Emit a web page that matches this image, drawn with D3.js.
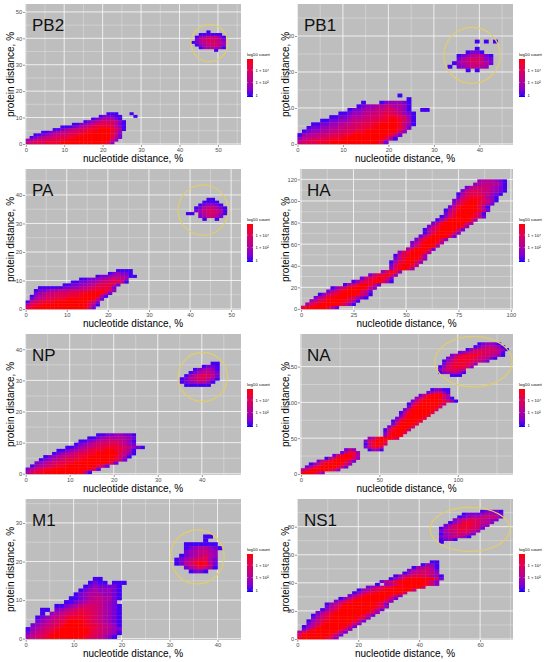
<!DOCTYPE html>
<html>
<head>
<meta charset="utf-8">
<title>Nucleotide vs protein distance</title>
<script src="https://cdn.jsdelivr.net/npm/d3@7"></script>
<style>
  body { margin: 0; background: #fff; }
  svg { display: block; font-family: "Liberation Sans", Arial, sans-serif; }
  .tick text { font-size: 5.8px; fill: #4d4d4d; }
  .tick line { stroke: #333; stroke-width: 0.5; }
  .axis-title { font-size: 10px; fill: #000; }
  .panel-title { font-size: 17px; fill: #111; }
  .legend-title { font-size: 4.4px; fill: #000; }
  .legend-label { font-size: 4.2px; fill: #000; }
</style>
</head>
<body>
<svg id="chart" width="550" height="662"></svg>
<script>
const panelNames = ["PB2", "PB1", "PA", "HA", "NP", "NA", "M1", "NS1"];
const xDomains = [[-0.2, 56], [-0.1, 47.4], [-0.16, 52.4], [-0.5, 101], [-0.15, 48.9], [-0.6, 135.2], [-0.14, 44.9], [-0.1, 70.8]];
const yDomains = [[-0.4, 53], [-0.3, 38.9], [-0.35, 49.1], [-1, 129.6], [-0.4, 44.9], [-1.5, 195.6], [-0.35, 36.2], [-0.7, 99.7]];
const xTicks = [[0, 10, 20, 30, 40, 50], [0, 10, 20, 30, 40], [0, 10, 20, 30, 40, 50], [0, 25, 50, 75, 100],
                [0, 10, 20, 30, 40], [0, 50, 100], [0, 10, 20, 30, 40], [0, 20, 40, 60]];
const yTicks = [[0, 10, 20, 30, 40, 50], [0, 10, 20, 30], [0, 10, 20, 30, 40], [0, 20, 40, 60, 80, 100, 120],
                [0, 10, 20, 30, 40], [0, 50, 100, 150], [0, 10, 20, 30], [0, 20, 40, 60, 80]];
// bin width (nucleotide %) and bin height (protein %) of each 2d histogram
const binSizes = [[1, 1], [1, 1], [1, 1], [2, 3], [1, 1], [2.5, 4], [1, 1], [1.5, 2]];
// circled outlier clusters: [cx, cy, rx, ry] in data units
const clusterRings = [[47.8, 38.2, 4.8, 7.0], [38.4, 24.6, 6.2, 7.8], [43.2, 34.7, 6.1, 8.8], null,
                      [40.2, 31.1, 5.6, 7.9], [110, 157, 24.6, 35.4], [35.8, 21.2, 5.6, 7.0], [56.7, 78.1, 13.1, 15.7]];
const legendBreaks = [1, 1e2, 1e4];
const legendLabels = ["1", "1 × 10²", "1 × 10⁴"];
const logCountRange = [-0.3, 5.76];
const levelStep = 0.72; // log10 count per digit below

// rows of bins: [protein %, nucleotide % of first bin, digits = count level 1..9, "." = empty]
const pb2Cells = [
  [11, 21, "111...1"], [10, 19, "122211...1"], [9, 17, "12344421"], [8, 15, "12345666531"],
  [7, 12, "11234567776421"], [6, 9, "11123456788887531"], [5, 7, "1123455678889998641"],
  [4, 4, "112345566778899999863"], [3, 2, "11234556677889999999852"], [2, 1, "123455667788999999999742"],
  [1, 0, "345666778889999999999963"], [0, 0, "56777888899999999999973"],
  [42, 47, "1"], [41, 45, "111111"], [40, 44, "13455531"], [39, 44, "24566542"],
  [38, 43, "124566653"], [37, 44, "13456643"], [36, 45, "1344431"], [35, 49, "1"]
];
const pb1Cells = [
  [13, 22, "1"], [12, 24, "1"], [11, 14, "1...1233321"], [10, 13, "123344554431"],
  [9, 11, "12234455665431..11"], [8, 9, "11233455667765321"], [7, 7, "1122344556678887631"],
  [6, 5, "112233455667788998641"], [5, 3, "11223345566778899998531"], [4, 2, "12233445566778899999862"],
  [3, 1, "12334455667788999999963"], [2, 0, "13445566778899999999852"], [1, 0, "3556677888999999999741"],
  [0, 0, "56778889999999999962"],
  [28, 39, "1.1.1"], [26, 39, "1"], [25, 37, "1221"], [24, 35, "12345421"], [23, 35, "24566532"],
  [22, 34, "134566542"], [21, 33, "1.2345543"], [20, 37, "1.1"]
];
const paCells = [
  [13, 22, "1111"], [12, 20, "123221"], [11, 17, "1223444311"], [10, 13, "112233456653"],
  [9, 11, "11223345667751"], [8, 9, "11223345677862"], [7, 3, "1111112233455677862"],
  [6, 2, "12234455566677889863"], [5, 2, "2345566677788999862"], [4, 1, "1345667778889999941"],
  [3, 1, "245677888999999952"], [2, 0, "156788899999999863"], [1, 0, "478899999999999741"],
  [0, 0, "78999999999999962"],
  [38, 44, "11"], [37, 43, "1111"], [36, 42, "123321"], [35, 41, "12455421"], [34, 41, "23566541"],
  [33, 39, "11.3466531"], [32, 42, "245542"], [31, 43, "1..1"]
];
const haCells = [
  [0, 0, "799999852"], [3, 2, "478999998631"], [6, 4, "357899998741"], [9, 6, "2568999987421"],
  [12, 8, "1367899998641"], [15, 12, "24689999752"], [18, 14, "13579999853"], [21, 20, "146899852"],
  [24, 24, "1357899741"], [27, 28, "25789862"], [30, 32, "2578973"], [33, 38, "36983"],
  [36, 42, "379974"], [39, 42, "2689985"], [42, 42, "14789963"], [45, 44, "25899973"],
  [48, 44, "15789983"], [51, 46, "36899984"], [54, 50, "4799982"], [57, 52, "3689994"],
  [60, 52, "24799984"], [63, 54, "25899973"], [66, 56, "258999962"], [69, 58, "147999963"],
  [72, 58, "1468999962"], [75, 60, "2579999973"], [78, 62, "2589999974"], [81, 64, "1479999984"],
  [84, 66, "13689999752"], [87, 68, "2579999861"], [90, 68, "14789999852"], [93, 70, "2589999741"],
  [96, 72, "3689998642"], [99, 72, "24789987531"], [102, 74, "2578886431"], [105, 74, "14677765321"],
  [108, 76, "25676554321"], [111, 78, "2456654321"], [114, 82, "34555431"], [117, 84, "3444321"]
];
const npCells = [
  [12, 16, "112233221"], [11, 14, "11234444432"], [10, 12, "1123455665431"], [9, 11, "12345667776532"],
  [8, 9, "112345677888765321"], [7, 7, "112345678889987641"], [6, 6, "1234567788999997531"],
  [5, 4, "12345667889999998641"], [4, 3, "12345677889999999852"], [3, 2, "2345677889999999962"],
  [2, 1, "134567889999999852"], [1, 0, "24678899999999962"], [0, 0, "468899999999951"],
  [35, 42, "11"], [34, 40, "1221"], [33, 38, "123431"], [32, 37, "1245542"], [31, 36, "13567652"],
  [30, 35, "124566531"], [29, 35, "12345531"], [28, 36, "111111"]
];
const naCells = [
  [0, 0, "999863"], [4, 0, "4799999863"], [8, 2.5, "24789999852"], [12, 5, "13689999863"],
  [16, 10, "2578999852"], [20, 15, "147999863"], [24, 20, "2589974"], [28, 25, "25883"], [32, 27.5, "243"],
  [32, 42.5, "1331"], [36, 40, "25886"], [40, 40, "158996"], [44, 40, "268998"], [48, 42.5, "35899986"],
  [52, 52.5, "37998"], [56, 52.5, "279997"], [60, 52.5, "1689995"], [64, 55, "2799996"],
  [68, 57.5, "2699997"], [72, 57.5, "14899997"], [76, 60, "25899997"], [80, 62.5, "26999998"],
  [84, 62.5, "158999997"], [88, 65, "269999996"], [92, 67.5, "279999996"], [96, 67.5, "1589999985"],
  [100, 70, "258999998631"], [104, 72.5, "3689998631"], [108, 75, "25899974"], [112, 80, "246631"],
  [116, 82.5, "12211"],
  [136, 95, "111"], [140, 87.5, "1234431"], [144, 87.5, "2567765"], [148, 87.5, "136788763"],
  [152, 90, "257888763"], [156, 90, "135788876542"], [160, 92.5, "2478888765421"],
  [164, 95, "24688887665431"], [168, 100, "235677766541"], [172, 105, "13566666431"],
  [176, 110, "12455431"], [180, 112.5, "123321"]
];
const m1Cells = [
  [15, 14, "11"], [14, 13, "1211.111"], [13, 12, "12322221"], [12, 11, "123433321"],
  [11, 10, "1234443321"], [10, 9, "11234554421"], [9, 8, "11234555432"], [8, 6, "11234566654321"],
  [7, 3, "11.23456776654321"], [6, 3, "1.345677877654321"], [5, 2, "123456788887654321"],
  [4, 2, "234567899987654321"], [3, 1, "2345678999988765431"], [2, 0, "13456789999998765432"],
  [1, 0, "24567899999998765431"], [0, 0, "4567899999998765421"],
  [26, 37, "11"], [25, 37, "1"], [24, 33, "1111111"], [23, 33, "12344321"], [22, 33, "2345543"],
  [21, 32, "12345643"], [20, 31, "123567742"], [19, 31, "125689852"], [18, 33, "2467641"], [17, 34, "1221"]
];
const ns1Cells = [
  [0, 0, "899999863"], [2, 0, "7999999852"], [4, 0, "47999999852"], [6, 1.5, "25899999863"],
  [8, 1.5, "135899999852"], [10, 3, "246899999863"], [12, 3, "1357899999852"], [14, 4.5, "2468999999863"],
  [16, 4.5, "13578999999852"], [18, 6, "24689999999863"], [20, 7.5, "13579999999852"],
  [22, 9, "24689999999863"], [24, 9, "13579999999862"], [26, 12, "2468999999863"],
  [28, 13.5, "1357999999852"], [30, 16.5, "246899999863"], [32, 18, "135789999996"],
  [34, 19.5, "1346789999995"], [36, 22.5, "2356789999996"], [38, 25.5, "1.346899999853"],
  [40, 27, "2468999999852"], [42, 30, "135899999962"], [44, 31.5, "13567776431"], [46, 34.5, "13566653"],
  [48, 36, "2456642"], [50, 37.5, "134541"], [52, 40.5, "1331"], [54, 43.5, "11"],
  [68, 46.5, "1"], [70, 46.5, "1231"], [72, 46.5, "2345431"], [74, 46.5, "13456542"],
  [76, 46.5, "245677653"], [78, 46.5, "1356787652"], [80, 48, "2467887643"], [82, 49.5, "1357876543"],
  [84, 51, "2467765432"], [86, 52.5, "1234456652"], [88, 54, "122234442"], [90, 60, "12221"]
];
const cellSets = [pb2Cells, pb1Cells, paCells, haCells, npCells, naCells, m1Cells, ns1Cells];

const svg = d3.select("#chart");
const colX = [0, 275];
const rowY = [0, 165, 330, 495];
const plotLeftPad = [25, 22, 25, 25, 25, 25, 25, 22];
const plotRightPad = [241, 238];

const color = d3.scaleSequential(d3.interpolateLab("#0000ff", "#ff0000")).domain(logCountRange);

const defs = svg.append("defs");
const grad = defs.append("linearGradient").attr("id", "legendGrad")
  .attr("x1", 0).attr("y1", 1).attr("x2", 0).attr("y2", 0);
d3.range(0, 1.0001, 0.1).forEach(t => grad.append("stop")
  .attr("offset", t)
  .attr("stop-color", color(logCountRange[0] + t * (logCountRange[1] - logCountRange[0]))));

const minorOf = (ticks, dom) => {
  const s = ticks[1] - ticks[0];
  return d3.range(ticks[0] - s / 2, dom[1], s).filter(v => v > dom[0]);
};

panelNames.forEach((name, i) => {
  const col = i % 2, row = Math.floor(i / 2);
  const left = colX[col] + plotLeftPad[i], right = colX[col] + plotRightPad[col];
  const top = rowY[row] + 4, bottom = rowY[row] + 145;
  const x = d3.scaleLinear().domain(xDomains[i]).range([left, right]);
  const y = d3.scaleLinear().domain(yDomains[i]).range([bottom, top]);
  const g = svg.append("g");

  g.append("rect").attr("x", left).attr("y", top)
    .attr("width", right - left).attr("height", bottom - top).attr("fill", "#bebebe");

  // grid
  const grid = g.append("g");
  grid.selectAll(".vminor").data(minorOf(xTicks[i], xDomains[i])).join("line")
    .attr("x1", d => x(d)).attr("x2", d => x(d)).attr("y1", top).attr("y2", bottom)
    .attr("stroke", "#fff").attr("stroke-width", 0.35).attr("stroke-opacity", 0.8);
  grid.selectAll(".hminor").data(minorOf(yTicks[i], yDomains[i])).join("line")
    .attr("y1", d => y(d)).attr("y2", d => y(d)).attr("x1", left).attr("x2", right)
    .attr("stroke", "#fff").attr("stroke-width", 0.35).attr("stroke-opacity", 0.8);
  grid.selectAll(".vmajor").data(xTicks[i]).join("line")
    .attr("x1", d => x(d)).attr("x2", d => x(d)).attr("y1", top).attr("y2", bottom)
    .attr("stroke", "#fff").attr("stroke-width", 0.75);
  grid.selectAll(".hmajor").data(yTicks[i]).join("line")
    .attr("y1", d => y(d)).attr("y2", d => y(d)).attr("x1", left).attr("x2", right)
    .attr("stroke", "#fff").attr("stroke-width", 0.75);

  // bins
  defs.append("clipPath").attr("id", "clip" + i).append("rect")
    .attr("x", left).attr("y", top).attr("width", right - left).attr("height", bottom - top);
  const [bw, bh] = binSizes[i];
  const bins = [];
  cellSets[i].forEach(([py, nx, levels]) => {
    levels.split("").forEach((ch, k) => {
      if (ch !== ".") bins.push({ nx: nx + k * bw, py: py, log: (+ch - 1) * levelStep });
    });
  });
  g.append("g").attr("clip-path", `url(#clip${i})`)
    .selectAll("rect").data(bins).join("rect")
    .attr("x", d => x(d.nx))
    .attr("y", d => y(d.py + bh))
    .attr("width", d => x(d.nx + bw) - x(d.nx) + 0.3)
    .attr("height", d => y(d.py) - y(d.py + bh) + 0.3)
    .attr("fill", d => color(d.log));

  // circled cluster
  const ring = clusterRings[i];
  if (ring) {
    g.append("ellipse")
      .attr("cx", x(ring[0])).attr("cy", y(ring[1]))
      .attr("rx", x(ring[0] + ring[2]) - x(ring[0]))
      .attr("ry", y(ring[1]) - y(ring[1] + ring[3]))
      .attr("fill", "none").attr("stroke", "#e2cd6a").attr("stroke-width", 1.2);
  }

  // axes
  const xAxis = g.append("g").attr("transform", `translate(0,${bottom})`)
    .call(d3.axisBottom(x).tickValues(xTicks[i]).tickSize(2).tickPadding(0.6).tickFormat(d3.format("d")));
  const yAxis = g.append("g").attr("transform", `translate(${left},0)`)
    .call(d3.axisLeft(y).tickValues(yTicks[i]).tickSize(2).tickPadding(0.8).tickFormat(d3.format("d")));
  [xAxis, yAxis].forEach(a => {
    a.select(".domain").remove();
    a.attr("font-family", null).attr("font-size", null);
  });

  g.append("text").attr("class", "axis-title")
    .attr("x", (left + right) / 2).attr("y", bottom + 16.5)
    .attr("text-anchor", "middle").text("nucleotide distance, %");
  g.append("text").attr("class", "axis-title")
    .attr("transform", `translate(${colX[col] + 14},${(top + bottom) / 2}) rotate(-90)`)
    .attr("text-anchor", "middle").text("protein distance, %");

  g.append("text").attr("class", "panel-title")
    .attr("x", left + 7).attr("y", top + 27).text(name);

  // colour bar
  const lx = right + 6, ly0 = top + 55, ly1 = top + 93;
  const ls = d3.scaleLinear().domain(logCountRange).range([ly1, ly0]);
  g.append("text").attr("class", "legend-title").attr("x", lx).attr("y", top + 52).text("log10 count");
  g.append("rect").attr("x", lx).attr("y", ly0).attr("width", 6).attr("height", ly1 - ly0)
    .attr("fill", "url(#legendGrad)");
  legendBreaks.forEach((b, k) => {
    const yy = ls(Math.log10(b));
    g.append("line").attr("x1", lx).attr("x2", lx + 1.2).attr("y1", yy).attr("y2", yy)
      .attr("stroke", "#fff").attr("stroke-width", 0.4);
    g.append("line").attr("x1", lx + 4.8).attr("x2", lx + 6).attr("y1", yy).attr("y2", yy)
      .attr("stroke", "#fff").attr("stroke-width", 0.4);
    g.append("text").attr("class", "legend-label").attr("x", lx + 8.5).attr("y", yy + 1.5)
      .text(legendLabels[k]);
  });
});
</script>
</body>
</html>
